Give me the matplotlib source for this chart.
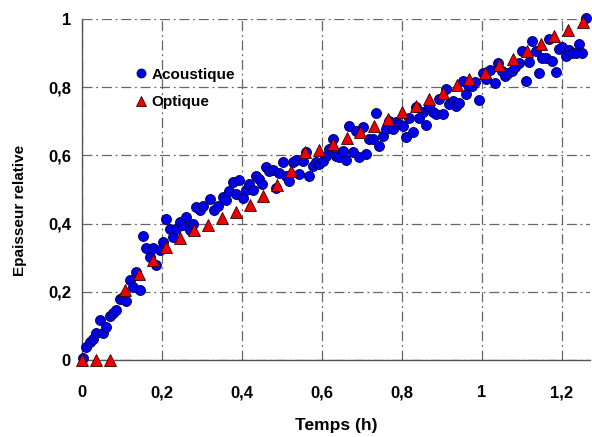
import matplotlib
matplotlib.use("Agg")
import matplotlib.pyplot as plt
from matplotlib.ticker import FuncFormatter

plt.rcParams['font.family'] = ['Liberation Sans', 'DejaVu Sans']

# Acoustic measurements (time in h, relative thickness)
acoustique_t = [
    0.0025, 0.011, 0.019, 0.0275, 0.036, 0.044, 0.0525, 0.061, 0.069, 0.0775,
    0.086, 0.094, 0.1025, 0.111, 0.119, 0.1275, 0.136, 0.144, 0.1525, 0.161,
    0.169, 0.1775, 0.186, 0.194, 0.2025, 0.209, 0.219, 0.2275, 0.236, 0.244,
    0.2525, 0.261, 0.269, 0.2775, 0.286, 0.294, 0.3025,
    0.32, 0.33, 0.341, 0.352, 0.36, 0.368, 0.377, 0.385, 0.393,
    0.402, 0.41, 0.418, 0.427, 0.435, 0.443, 0.449, 0.46, 0.468, 0.477,
    0.485, 0.493, 0.502, 0.51, 0.518, 0.527, 0.535, 0.543, 0.552, 0.56,
    0.568, 0.577, 0.585, 0.593, 0.602, 0.61, 0.618, 0.627, 0.635,
    0.643, 0.652, 0.66, 0.668, 0.677, 0.685, 0.693, 0.702, 0.71, 0.718,
    0.727, 0.735, 0.743, 0.752, 0.76, 0.768, 0.777, 0.785, 0.793, 0.802,
    0.81, 0.818, 0.827, 0.835, 0.843, 0.852, 0.86, 0.868, 0.877, 0.885,
    0.893, 0.902, 0.91, 0.918, 0.927, 0.935, 0.943, 0.952, 0.96,
    0.966, 0.974, 0.9825, 0.993, 1.002, 1.01, 1.02, 1.0325, 1.041, 1.049,
    1.0575, 1.066, 1.074, 1.0825, 1.093, 1.099, 1.109, 1.1175, 1.126, 1.134,
    1.1425, 1.151, 1.159, 1.1675, 1.176, 1.184, 1.1925, 1.201, 1.209, 1.2175,
    1.226, 1.234, 1.2425, 1.251, 1.259,
]
acoustique_e = [
    0.005, 0.039, 0.054, 0.063, 0.078, 0.117, 0.078, 0.097, 0.129, 0.137,
    0.146, 0.180, 0.185, 0.173, 0.236, 0.214, 0.258, 0.205, 0.365, 0.327,
    0.302, 0.327, 0.278, 0.322, 0.346, 0.414, 0.385, 0.360, 0.385, 0.404,
    0.395, 0.419, 0.380, 0.398, 0.448, 0.439, 0.453,
    0.473, 0.441, 0.453, 0.477, 0.468, 0.495, 0.521, 0.487, 0.528,
    0.476, 0.499, 0.517, 0.499, 0.541, 0.531, 0.517, 0.567, 0.553, 0.556,
    0.505, 0.548, 0.580, 0.541, 0.526, 0.580, 0.587, 0.546, 0.585, 0.609,
    0.541, 0.570, 0.580, 0.575, 0.585, 0.599, 0.619, 0.648, 0.599,
    0.594, 0.614, 0.587, 0.687, 0.609, 0.673, 0.594, 0.682, 0.604, 0.648,
    0.648, 0.723, 0.629, 0.658, 0.677, 0.702, 0.677, 0.697, 0.692, 0.687,
    0.653, 0.711, 0.668, 0.741, 0.711, 0.726, 0.690, 0.741, 0.726, 0.721,
    0.765, 0.721, 0.794, 0.751, 0.760, 0.746, 0.755, 0.819, 0.780,
    0.807, 0.804, 0.814, 0.762, 0.843, 0.824, 0.850, 0.811, 0.872, 0.848,
    0.833, 0.843, 0.848, 0.858, 0.872, 0.906, 0.817, 0.874, 0.936, 0.906,
    0.843, 0.887, 0.887, 0.941, 0.877, 0.846, 0.911, 0.918, 0.892, 0.908,
    0.901, 0.901, 0.926, 0.899, 1.002,
]

# Optical measurements
optique_t = [
    0.0, 0.035, 0.07, 0.107, 0.142, 0.177, 0.211, 0.246, 0.28, 0.316,
    0.35, 0.385, 0.42, 0.453, 0.4875, 0.522, 0.5575, 0.5925, 0.627, 0.662,
    0.695, 0.73, 0.766, 0.799, 0.834, 0.868, 0.903, 0.937, 0.968, 1.0075,
    1.0425, 1.077, 1.112, 1.147, 1.181, 1.214, 1.252,
]
optique_e = [
    0.0, 0.0, 0.0, 0.205, 0.253, 0.292, 0.330, 0.358, 0.380, 0.397,
    0.417, 0.434, 0.456, 0.480, 0.512, 0.553, 0.609, 0.616, 0.633, 0.651,
    0.670, 0.687, 0.708, 0.726, 0.746, 0.764, 0.784, 0.806, 0.824, 0.843,
    0.864, 0.884, 0.906, 0.926, 0.950, 0.968, 0.991,
]

x_ticks = [0, 0.2, 0.4, 0.6, 0.8, 1.0, 1.2]
y_ticks = [0, 0.2, 0.4, 0.6, 0.8, 1.0]

fig = plt.figure(figsize=(5.92, 4.37), dpi=100)
ax = fig.add_axes([82 / 592, 1 - 360 / 437, 508 / 592, 341 / 437])

ax.plot(acoustique_t, acoustique_e, linestyle='none', marker='o', markersize=7.2,
        markerfacecolor='#0000EE', markeredgecolor='#000044', markeredgewidth=0.6,
        label='Acoustique', zorder=3, clip_on=False)
ax.plot(optique_t, optique_e, linestyle='none', marker='^', markersize=8,
        markerfacecolor='#EE0000', markeredgecolor='#330000', markeredgewidth=0.6,
        label='Optique', zorder=4, clip_on=False)

ax.set_xlim(0, 1.27)
ax.set_ylim(0, 1.0)
ax.set_xticks(x_ticks)
ax.set_yticks(y_ticks)

fmt = FuncFormatter(lambda v, p: ('%g' % round(v, 2)).replace('.', ','))
ax.xaxis.set_major_formatter(fmt)
ax.yaxis.set_major_formatter(fmt)

ax.tick_params(axis='both', length=0, labelsize=12)
ax.tick_params(axis='x', pad=18)
ax.tick_params(axis='y', pad=8)
for lbl in ax.get_xticklabels() + ax.get_yticklabels():
    lbl.set_fontweight('bold')

ax.grid(True, linestyle='-.', color='#666666', linewidth=0.9, dashes=(8, 3, 1.5, 3))
ax.set_axisbelow(True)

for s in ['top', 'right']:
    ax.spines[s].set_visible(False)
for s in ['left', 'bottom']:
    ax.spines[s].set_color('#555555')
    ax.spines[s].set_linewidth(1.0)

ax.set_xlabel('Temps (h)', fontsize=12.5, fontweight='bold')
ax.xaxis.set_label_coords(0.5, -0.17)
ax.set_ylabel('Epaisseur relative', fontsize=11, fontweight='bold')
ax.yaxis.set_label_coords(-0.108, 0.44)

leg = ax.legend(loc='upper left', bbox_to_anchor=(0.095, 0.875), frameon=False,
                prop={'weight': 'bold', 'size': 11}, handlelength=0.6,
                handletextpad=0.4, labelspacing=0.9, markerscale=0.9,
                borderaxespad=0)

fig.savefig('out.png', dpi=100)
